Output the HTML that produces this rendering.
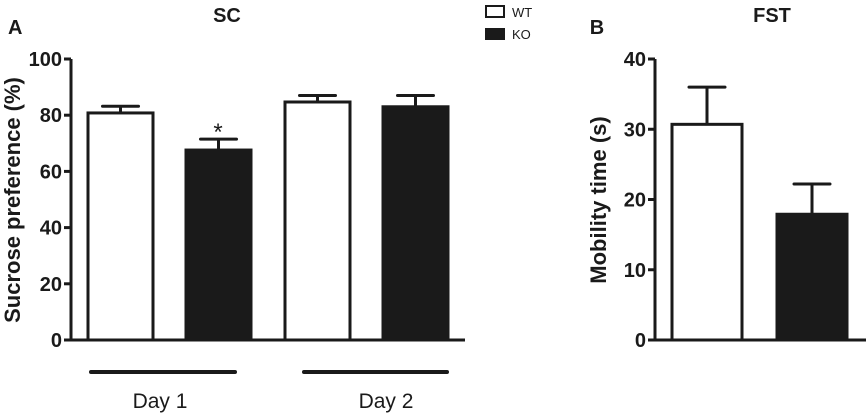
<!DOCTYPE html>
<html><head><meta charset="utf-8"><style>
body{margin:0;background:#fff;}
svg text{font-family:"Liberation Sans",Arial,sans-serif;fill:#1a1a1a;}
</style></head><body>
<svg width="866" height="414" xmlns="http://www.w3.org/2000/svg">
<g id="A"></g>
<g id="B"></g>
</svg>
<script>
const scCategories = ["Day 1 WT","Day 1 KO","Day 2 WT","Day 2 KO"];
const scValues = [80.8, 67.6, 84.7, 83];
const scErrors = [2.4, 3.9, 2.3, 4];
const scTicks = [0,20,40,60,80,100];
const fstCategories = ["WT","KO"];
const fstValues = [30.7, 17.9];
const fstErrors = [5.3, 4.3];
const fstTicks = [0,10,20,30,40];

const NS="http://www.w3.org/2000/svg";
function mk(parent,tag,attrs,text){const e=document.createElementNS(NS,tag);for(const k in attrs)e.setAttribute(k,attrs[k]);if(text!==undefined)e.textContent=text;parent.appendChild(e);return e;}

function drawPanel(g,o){
  const y=v=>o.y0-(v/o.max)*(o.y0-o.yTop);
  let ax=mk(g,'line',{x1:o.ax,y1:o.yTop,x2:o.ax,y2:o.y0+1.5,stroke:'#1a1a1a','stroke-width':3});
  
  
  let xa=mk(g,'line',{x1:o.ax-7,y1:o.y0,x2:o.xEnd,y2:o.y0,stroke:'#1a1a1a','stroke-width':3});
  
  
  o.ticks.forEach(t=>{
    let tl=mk(g,'line',{x1:o.ax-7,y1:y(t),x2:o.ax,y2:y(t),stroke:'#1a1a1a','stroke-width':3});
    
    
    let tt=mk(g,'text',{x:o.ax-9,y:y(t)+7,'text-anchor':'end','font-size':20,'font-weight':'bold'},String(t));
    
    
  });
  o.values.forEach((v,i)=>{
    const x0=o.barX[i], w=o.barW, fill=o.fills[i];
    const top=y(v+o.errors[i]), cx=x0+w/2;
    let el=mk(g,'line',{x1:cx,y1:y(v),x2:cx,y2:top,stroke:'#1a1a1a','stroke-width':3});
    
    
    let ec=mk(g,'line',{x1:cx-18,y1:top,x2:cx+18,y2:top,stroke:'#1a1a1a','stroke-width':3,'stroke-linecap':'round'});
    
    
    let r=mk(g,'rect',{x:x0,y:y(v),width:w,height:o.y0-y(v),fill:fill,stroke:'#1a1a1a','stroke-width':3});
    
    
  });
  return y;
}
const A=document.getElementById('A');
const yA=drawPanel(A,{ax:71,y0:340,yTop:59,max:100,xEnd:465,ticks:scTicks,values:scValues,errors:scErrors,cats:scCategories,barX:[88,186,285,383],barW:65,fills:['#fff','#1a1a1a','#fff','#1a1a1a']});
const B=document.getElementById('B');
drawPanel(B,{ax:655,y0:340,yTop:59,max:40,xEnd:866,ticks:fstTicks,values:fstValues,errors:fstErrors,cats:fstCategories,barX:[672,777],barW:70,fills:['#fff','#1a1a1a']});
</script>
<svg width="866" height="414" style="position:absolute;left:0;top:0" xmlns="http://www.w3.org/2000/svg">
<text x="8" y="34" font-size="20" font-weight="bold">A</text>
<text x="227" y="22" font-size="20" font-weight="bold" text-anchor="middle">SC</text>
<text x="597" y="34" font-size="20" font-weight="bold" text-anchor="middle">B</text>
<text x="772" y="22" font-size="20" font-weight="bold" text-anchor="middle">FST</text>
<text transform="translate(20,200) rotate(-90)" font-size="22" font-weight="bold" text-anchor="middle">Sucrose preference (%)</text>
<text transform="translate(606,200) rotate(-90)" font-size="22" font-weight="bold" text-anchor="middle">Mobility time (s)</text>
<text x="218" y="140" font-size="24" text-anchor="middle">*</text>
<line x1="91" y1="372" x2="235" y2="372" stroke="#1a1a1a" stroke-width="4" stroke-linecap="round"/>
<line x1="304" y1="372" x2="447" y2="372" stroke="#1a1a1a" stroke-width="4" stroke-linecap="round"/>
<text x="160" y="408" font-size="21" text-anchor="middle">Day 1</text>
<text x="386" y="408" font-size="21" text-anchor="middle">Day 2</text>
<rect x="486" y="6" width="18" height="11" fill="#fff" stroke="#1a1a1a" stroke-width="2"/>
<text x="512" y="17" font-size="13">WT</text>
<rect x="485" y="28" width="20" height="12" fill="#1a1a1a"/>
<text x="512" y="39" font-size="13">KO</text>
</svg>
</body></html>
